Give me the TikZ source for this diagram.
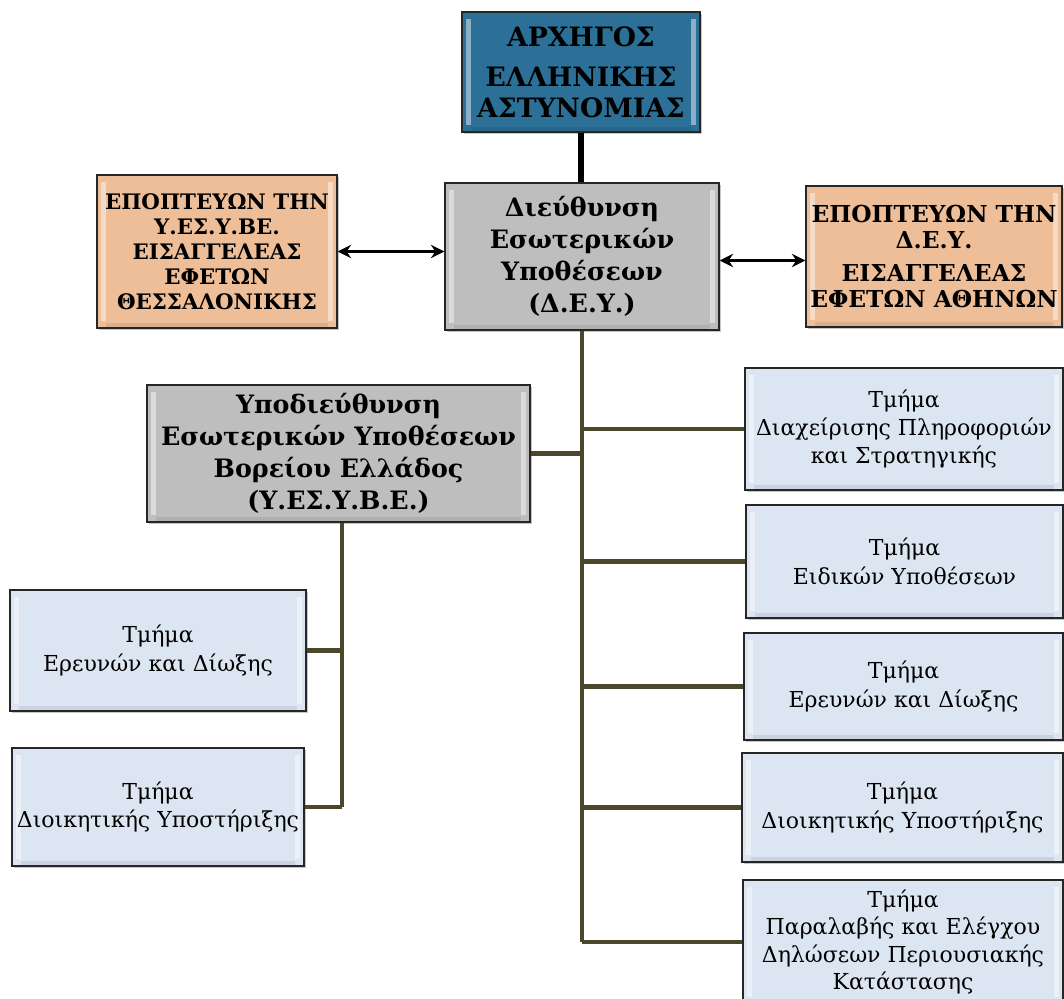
\documentclass[tikz,border=0pt]{standalone}
\usepackage{fontspec}
\setmainfont{DejaVu Serif}
\usetikzlibrary{shadows,arrows.meta}
\definecolor{topblue}{RGB}{44,112,152}
\definecolor{boxgray}{RGB}{190,190,190}
\definecolor{peach}{RGB}{238,190,152}
\definecolor{paleblue}{RGB}{220,230,242}
\definecolor{olive}{RGB}{76,70,44}
\tikzset{
  basebox/.style={draw=black!85, line width=1.1pt, align=center, inner sep=0pt,
    drop shadow={shadow xshift=1.8pt, shadow yshift=-1.8pt, opacity=0.45},
    path picture={
      \fill[white,opacity=0.45] ([xshift=3pt,yshift=-5pt]path picture bounding box.north west) rectangle ([xshift=7pt,yshift=5pt]path picture bounding box.south west);
      \fill[white,opacity=0.45] ([xshift=-3pt,yshift=-5pt]path picture bounding box.north east) rectangle ([xshift=-7pt,yshift=5pt]path picture bounding box.south east);
      \fill[black,opacity=0.08] ([xshift=7pt,yshift=4pt]path picture bounding box.south west) rectangle ([xshift=-7pt,yshift=1pt]path picture bounding box.south east);
    }},
  chiefbox/.style={basebox, fill=topblue, font=\bfseries\fontsize{20}{23.25}\selectfont},
  dirbox/.style={basebox, fill=boxgray, font=\bfseries\fontsize{19}{24}\selectfont},
  subdirbox/.style={basebox, fill=boxgray, font=\bfseries\fontsize{19}{24}\selectfont},
  prosbox/.style={basebox, fill=peach, font=\bfseries\fontsize{16}{18.75}\selectfont},
  rprosbox/.style={basebox, fill=peach, font=\bfseries\fontsize{17.5}{19.5}\selectfont},
  deptbox/.style={basebox, fill=paleblue, font=\fontsize{16.5}{21.3}\selectfont},
  trunk/.style={draw=olive, line width=3.6pt},
  chiefline/.style={draw=black, line width=4.5pt},
  biarrow/.style={draw=black, line width=2.2pt, {Stealth[length=10pt,width=10pt]}-{Stealth[length=10pt,width=10pt]}}
}
\begin{document}
\begin{tikzpicture}[x=0.75pt,y=-0.75pt]
\useasboundingbox (0,0) rectangle (1064,999);
\node[chiefbox, minimum width=178.5pt, minimum height=90pt] (chief) at (581,72)
  {ΑΡΧΗΓΟΣ\\[6.75pt]ΕΛΛΗΝΙΚΗΣ\\ΑΣΤΥΝΟΜΙΑΣ};
\node[dirbox, minimum width=205.5pt, minimum height=110.25pt] (dey) at (582,256.5)
  {Διεύθυνση\\Εσωτερικών\\Υποθέσεων\\(Δ.Ε.Υ.)};
\node[prosbox, minimum width=180pt, minimum height=114.75pt] (lpros) at (217,251.5)
  {ΕΠΟΠΤΕΥΩΝ ΤΗΝ\\Υ.ΕΣ.Υ.ΒΕ.\\ΕΙΣΑΓΓΕΛΕΑΣ\\ΕΦΕΤΩΝ\\ΘΕΣΣΑΛΟΝΙΚΗΣ};
\node[rprosbox, minimum width=192pt, minimum height=105.75pt] (rpros) at (934,256.5)
  {ΕΠΟΠΤΕΥΩΝ ΤΗΝ\\Δ.Ε.Υ.\\[5pt]ΕΙΣΑΓΓΕΛΕΑΣ\\ΕΦΕΤΩΝ ΑΘΗΝΩΝ};
\node[subdirbox, minimum width=287.25pt, minimum height=102.75pt] (yesybe) at (338.5,453.5)
  {Υποδιεύθυνση\\Εσωτερικών Υποθέσεων\\Βορείου Ελλάδος\\(Υ.ΕΣ.Υ.Β.Ε.)};
\node[deptbox, minimum width=238.5pt, minimum height=91.5pt] (r1) at (904,429)
  {Τμήμα\\Διαχείρισης Πληροφοριών\\και Στρατηγικής};
\node[deptbox, minimum width=237.75pt, minimum height=84.75pt] (r2) at (904.5,561.5)
  {Τμήμα\\Ειδικών Υποθέσεων};
\node[deptbox, minimum width=239.25pt, minimum height=80.25pt] (r3) at (903.5,686.5)
  {Τμήμα\\Ερευνών και Δίωξης};
\node[deptbox, minimum width=240.75pt, minimum height=81.75pt] (r4) at (902.5,807.5)
  {Τμήμα\\Διοικητικής Υποστήριξης};
\node[deptbox, minimum width=240pt, minimum height=93pt, font=\fontsize{16.5}{20.6}\selectfont] (r5) at (903,942)
  {Τμήμα\\Παραλαβής και Ελέγχου\\Δηλώσεων Περιουσιακής\\Κατάστασης};
\node[deptbox, minimum width=222pt, minimum height=90.75pt] (l1) at (158,650.5)
  {Τμήμα\\Ερευνών και Δίωξης};
\node[deptbox, minimum width=219pt, minimum height=88.5pt] (l2) at (158,807)
  {Τμήμα\\Διοικητικής Υποστήριξης};
\draw[chiefline] (chief.south) -- (chief.south |- dey.north);
\draw[biarrow] (lpros.east) -- (lpros.east -| dey.west);
\draw[biarrow] ([yshift=-3pt]dey.east) -- ([yshift=-3pt]dey.east -| rpros.west);
\draw[trunk] (dey.south) -- (dey.south |- r5.west);
\draw[trunk] (yesybe.east) -- (yesybe.east -| dey.south);
\foreach \n in {r1,r2,r3,r4,r5} \draw[trunk] (dey.south |- \n.west) -- (\n.west);
\draw[trunk] ([xshift=2.6pt]yesybe.south) -- ([xshift=2.6pt]yesybe.south |- l2.east);
\foreach \n in {l1,l2} \draw[trunk] ([xshift=2.6pt]yesybe.south |- \n.east) -- (\n.east);
\end{tikzpicture}
\end{document}
